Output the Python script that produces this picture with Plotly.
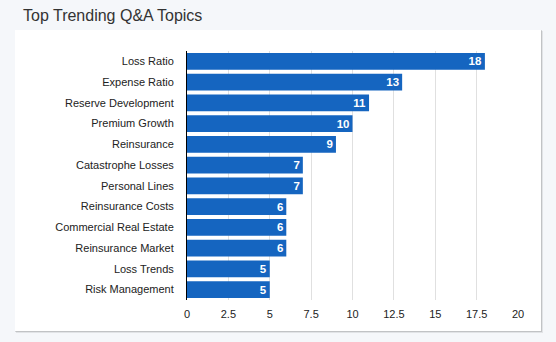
import plotly.graph_objects as go

topics = [
    "Loss Ratio", "Expense Ratio", "Reserve Development", "Premium Growth",
    "Reinsurance", "Catastrophe Losses", "Personal Lines", "Reinsurance Costs",
    "Commercial Real Estate", "Reinsurance Market", "Loss Trends", "Risk Management",
]
counts = [18, 13, 11, 10, 9, 7, 7, 6, 6, 6, 5, 5]
x_ticks = [0, 2.5, 5, 7.5, 10, 12.5, 15, 17.5, 20]

W, H = 556, 342
ML, MR, MT, MB = 187, 38, 51, 42
PW, PH = W - ML - MR, H - MT - MB


def px_x(p):
    return (p - ML) / PW


def px_y(p):
    return 1 - (p - MT) / PH


fig = go.Figure(
    go.Bar(
        x=counts,
        y=topics,
        orientation="h",
        marker=dict(color="#1565C0", line=dict(width=0)),
        text=[str(c) for c in counts],
        textposition="inside",
        insidetextanchor="end",
        textangle=0,
        constraintext="none",
        textfont=dict(color="white", size=11.5, family="Arial, Liberation Sans, sans-serif", weight="bold"),
        hoverinfo="skip",
    )
)

# card with a soft drop shadow behind the plotting area
card_l, card_t, card_r, card_b = 15, 30, 541, 331
shapes = [
    dict(type="rect", xref="paper", yref="paper", layer="below",
         x0=px_x(card_l + 1), x1=px_x(card_r + 2), y0=px_y(card_b + 2), y1=px_y(card_t + 1),
         fillcolor="rgba(0,0,0,0.08)", line=dict(width=0)),
    dict(type="rect", xref="paper", yref="paper", layer="below",
         x0=px_x(card_l), x1=px_x(card_r + 1), y0=px_y(card_b + 1), y1=px_y(card_t),
         fillcolor="rgba(0,0,0,0.14)", line=dict(width=0)),
    dict(type="rect", xref="paper", yref="paper", layer="below",
         x0=px_x(card_l), x1=px_x(card_r), y0=px_y(card_b), y1=px_y(card_t),
         fillcolor="white", line=dict(width=0)),
]

fig.update_layout(
    width=W, height=H,
    margin=dict(l=ML, r=MR, t=MT, b=MB, pad=0),
    paper_bgcolor="#f5f7fa",
    plot_bgcolor="rgba(0,0,0,0)",
    font=dict(family="Arial, Liberation Sans, sans-serif", color="#333333", size=11),
    title=dict(
        text="Top Trending Q&A Topics",
        xref="container", yref="container",
        x=23 / W, xanchor="left",
        y=1 - 15 / H, yanchor="middle",
        font=dict(size=16, color="#333333"),
    ),
    bargap=0.2,
    showlegend=False,
    shapes=shapes,
    xaxis=dict(
        range=[0, 20], tickvals=x_ticks, ticktext=[f"{v:g}" for v in x_ticks],
        showgrid=True, gridcolor="#e0e0e0", gridwidth=1,
        zeroline=False, showline=False, ticks="",
        ticklabelstandoff=6,
        tickfont=dict(size=11, color="#222222"),
        fixedrange=True,
    ),
    yaxis=dict(
        autorange="reversed",
        showline=True, linecolor="#000000", linewidth=1,
        showgrid=False, zeroline=False, ticks="",
        ticklabelstandoff=10,
        tickfont=dict(size=11, color="#222222"),
        fixedrange=True,
    ),
)

fig.write_html("out.html")
